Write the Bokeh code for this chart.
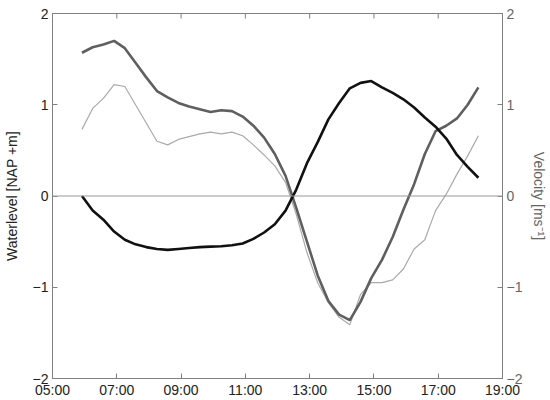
import math
from bokeh.plotting import figure
from bokeh.models import Range1d, LinearAxis, FixedTicker, Span
from bokeh.embed import file_html
from bokeh.resources import INLINE

times = ["05:55", "06:15", "06:35", "06:55", "07:15", "07:35", "07:55", "08:15",
         "08:35", "08:55", "09:15", "09:35", "09:55", "10:15", "10:35", "10:55",
         "11:15", "11:35", "11:55", "12:15", "12:35", "12:55", "13:15", "13:35",
         "13:55", "14:15", "14:35", "14:55", "15:15", "15:35", "15:55", "16:15",
         "16:35", "16:55", "17:15", "17:35", "17:55", "18:15"]

waterlevel = [0.00, -0.16, -0.26, -0.39, -0.48, -0.53, -0.56, -0.58,
              -0.59, -0.58, -0.57, -0.56, -0.555, -0.55, -0.54, -0.52,
              -0.47, -0.40, -0.31, -0.16, 0.07, 0.36, 0.59, 0.84,
              1.02, 1.18, 1.24, 1.26, 1.19, 1.13, 1.06, 0.97,
              0.86, 0.76, 0.63, 0.45, 0.32, 0.20]

velocity_a = [1.57, 1.63, 1.66, 1.70, 1.62, 1.46, 1.30, 1.15,
              1.08, 1.02, 0.98, 0.95, 0.92, 0.94, 0.93, 0.87,
              0.77, 0.64, 0.46, 0.22, -0.13, -0.50, -0.87, -1.15,
              -1.30, -1.36, -1.16, -0.90, -0.70, -0.45, -0.15, 0.13,
              0.46, 0.71, 0.77, 0.85, 1.00, 1.19]

velocity_b = [0.73, 0.96, 1.07, 1.22, 1.20, 1.00, 0.80, 0.60,
              0.56, 0.62, 0.65, 0.68, 0.70, 0.68, 0.70, 0.66,
              0.56, 0.45, 0.33, 0.15, -0.20, -0.62, -0.95, -1.17,
              -1.33, -1.41, -1.08, -0.95, -0.95, -0.92, -0.80, -0.58,
              -0.48, -0.16, 0.02, 0.24, 0.44, 0.66]

x_ticks = [5, 7, 9, 11, 13, 15, 17, 19]
x_tick_labels = ["05:00", "07:00", "09:00", "11:00", "13:00", "15:00", "17:00", "19:00"]
y_ticks = [-2, -1, 0, 1, 2]
y_max = 2

hours = [int(t[:2]) + int(t[3:]) / 60 for t in times]

FONT = "Liberation Sans"
AX = "#808080"

p = figure(width=550, height=400, output_backend="svg", toolbar_location=None,
           x_range=Range1d(5, 19), y_range=Range1d(-2, 2),
           min_border_left=49, min_border_right=36, min_border_top=13, min_border_bottom=20,
           x_axis_location=None, y_axis_location=None)
p.extra_y_ranges = {"vel": Range1d(-2, 2)}
p.grid.visible = False
p.outline_line_color = AX
p.background_fill_color = "white"
p.border_fill_color = "white"

def style(ax, label_color):
    ax.axis_line_color = AX
    ax.major_tick_line_color = AX
    ax.major_tick_in = 5
    ax.major_tick_out = 0
    ax.minor_tick_line_color = None
    ax.major_label_text_font = FONT
    ax.major_label_text_font_size = "14px"
    ax.major_label_text_color = label_color
    ax.axis_label_text_font = FONT
    ax.axis_label_text_font_size = "14px"
    ax.axis_label_text_font_style = "normal"
    ax.axis_label_text_color = label_color

xt = FixedTicker(ticks=x_ticks)
bottom = LinearAxis(ticker=xt, major_label_overrides=dict(zip(x_ticks, x_tick_labels)))
style(bottom, "#222222")
bottom.major_label_standoff = 3
p.add_layout(bottom, "below")

left = LinearAxis(ticker=FixedTicker(ticks=y_ticks), axis_label="Waterlevel [NAP +m]")
style(left, "#222222")
left.major_label_standoff = 4
left.axis_label_standoff = 10
p.add_layout(left, "left")

right = LinearAxis(y_range_name="vel", ticker=FixedTicker(ticks=y_ticks), axis_label="Velocity [ms\u207b\u00b9]")
style(right, "#666666")
right.major_label_standoff = 4
right.axis_label_standoff = 6
p.add_layout(right, "right")

# inward tick marks along the top edge of the box (half of each dash is clipped by the frame)
p.scatter(x_ticks, [y_max] * len(x_ticks), marker="dash", size=10, angle=math.pi / 2,
          line_color=AX, line_width=1)

p.add_layout(Span(location=0, dimension="width", line_color="#999999", line_width=1))

p.line(hours, velocity_b, y_range_name="vel", line_color="#aaaaaa", line_width=1.2)
p.line(hours, velocity_a, y_range_name="vel", line_color="#5f5f5f", line_width=2.6)
p.line(hours, waterlevel, line_color="#111111", line_width=2.6)

open("out.html", "w").write(file_html(p, INLINE))
